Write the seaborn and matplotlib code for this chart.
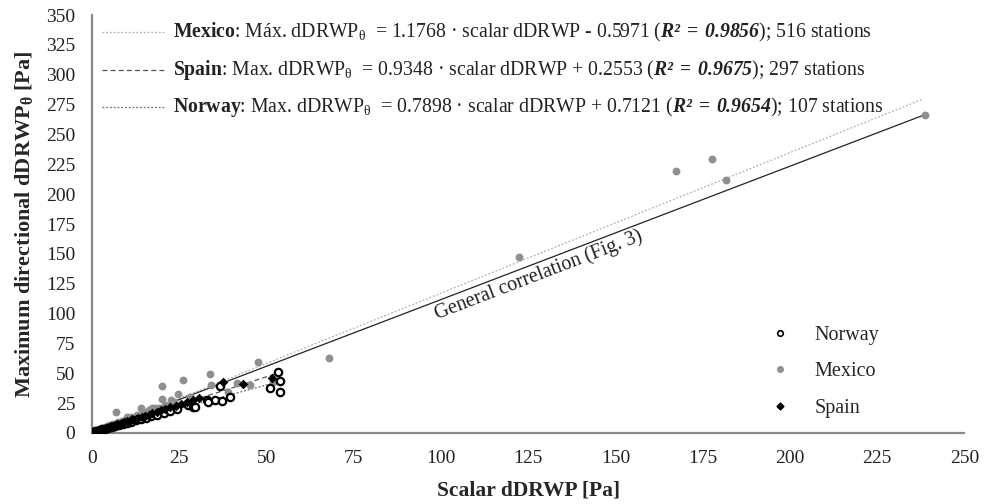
import numpy as np
import matplotlib
matplotlib.use("Agg")
import matplotlib.pyplot as plt
import seaborn as sns
from matplotlib.lines import Line2D

# data
mex_x = [0.2, 0.5, 0.8, 1.1, 1.4, 1.7, 2.0, 2.4, 2.8, 3.1, 3.5, 3.9, 4.3, 4.8, 5.2, 5.7, 6.1, 6.8, 7.4, 8.0,
         8.7, 9.3, 9.9, 10.6, 11.3, 12.0, 12.8, 13.6, 14.5, 15.3, 16.2, 17.1, 18.0, 19.2, 21.0, 23.5,
         6.8, 9.9, 14.0, 17.1, 20.1, 20.1, 22.5, 24.7, 26.2, 28.1, 33.8, 34.2, 39.1, 41.5,
         45.3, 47.7, 51.9, 67.8, 122.4, 167.3, 177.7, 181.7, 238.6]
mex_y = [0.6, 0.9, 1.5, 1.6, 2.3, 2.4, 3.1, 2.9, 3.8, 3.4, 4.5, 4.3, 5.4, 5.3, 6.6, 6.0, 7.5, 7.4, 9.1, 8.6,
         10.4, 10.0, 12.1, 11.3, 13.5, 12.8, 15.4, 14.6, 17.1, 16.8, 19.5, 18.2, 21.0, 20.6, 23.5, 26.0,
         17.8, 13.7, 20.7, 21.0, 39.4, 28.2, 27.6, 32.7, 44.4, 30.4, 49.4, 40.5, 34.6, 41.6,
         40.2, 59.2, 42.7, 62.8, 147.4, 219.4, 229.5, 211.9, 266.5]

spa_x = [0.3, 0.6, 1.0, 1.3, 1.7, 2.1, 2.5, 3.0, 3.4, 3.9, 4.4, 4.9, 5.5, 6.0, 6.6, 7.2, 7.9, 8.5, 9.2, 10.0,
         10.8, 11.6, 12.5, 13.3, 14.2, 15.1, 16.2, 17.3, 18.5, 19.8, 21.0, 22.4, 24.0, 25.5, 27.2, 29.0, 30.8,
         37.4, 43.4, 51.5]
spa_y = [0.7, 0.9, 1.3, 1.5, 1.9, 2.3, 2.6, 3.1, 3.5, 3.9, 4.5, 4.9, 5.4, 6.0, 6.4, 7.1, 7.6, 8.4, 8.8, 9.7,
         10.4, 11.3, 11.9, 12.8, 13.4, 14.6, 15.2, 16.5, 17.6, 18.9, 19.8, 21.5, 22.4, 24.6, 25.7, 27.4, 29.3,
         43.0, 41.0, 45.8]

nor_x = [0.4, 0.9, 1.5, 2.2, 3.0, 3.8, 4.7, 5.6, 6.6, 7.7, 8.8, 10.0, 11.3, 12.6, 14.0, 15.5, 17.0, 18.6,
         20.5, 22.4, 24.5, 27.6, 29.0, 29.5, 32.9, 33.3, 35.2, 36.7, 37.2, 39.5, 51.0, 53.4, 54.0, 54.0]
nor_y = [1.0, 1.4, 1.9, 2.4, 3.1, 3.6, 4.4, 5.0, 5.9, 6.6, 7.6, 8.5, 9.5, 10.6, 11.6, 12.9, 14.0, 15.2,
         16.8, 18.1, 20.0, 23.5, 22.0, 21.5, 27.6, 26.2, 27.6, 39.4, 27.0, 30.4, 37.4, 51.3, 43.3, 34.3]

# fitted lines: country, slope, intercept, end of line
fit_names = ["Mexico", "Spain", "Norway"]
fit_slope = [1.1768, 0.9348, 0.7898]
fit_icpt = [-0.5971, 0.2553, 0.7121]
fit_xmax = [238.0, 52.5, 54.0]
fit_r2 = ["0.9856", "0.9675", "0.9654"]
fit_n = [516, 297, 107]
fit_word = ["Máx.", "Max.", "Max."]
fit_style = [(0, (1.5, 1.5)), (0, (4, 2.5)), (0, (1.5, 1.5))]
fit_color = ["#b0b0b0", "#555555", "#707070"]

gen_slope = 1.117   # general correlation (Fig. 3), estimated
gen_xmax = 238.6

sns.set_style("white")
plt.rcParams["font.family"] = ["Liberation Serif", "DejaVu Serif"]
plt.rcParams["mathtext.fontset"] = "custom"
plt.rcParams["mathtext.rm"] = "Liberation Serif"
plt.rcParams["mathtext.it"] = "Liberation Serif:italic"
plt.rcParams["mathtext.bf"] = "Liberation Serif:bold"
plt.rcParams["mathtext.bfit"] = "Liberation Serif:italic:bold"

fig, ax = plt.subplots(figsize=(9.84, 5.04), dpi=100)
fig.subplots_adjust(left=0.0935, right=0.98, bottom=0.141, top=0.970)

# regression lines
for i in range(3):
    xs = np.array([0, fit_xmax[i]])
    ax.plot(xs, fit_slope[i] * xs + fit_icpt[i], color=fit_color[i], lw=0.9,
            linestyle=fit_style[i], zorder=1)
xs = np.array([0, gen_xmax])
ax.plot(xs, gen_slope * xs, color="#222222", lw=0.9, zorder=1)

# scatter
sns.scatterplot(x=mex_x, y=mex_y, ax=ax, marker="o", color="#8f8f8f", s=32,
                edgecolor="#8f8f8f", linewidth=0, zorder=2)
sns.scatterplot(x=nor_x, y=nor_y, ax=ax, marker="o", color="white", s=28,
                edgecolor="black", linewidth=1.6, zorder=3)
sns.scatterplot(x=spa_x, y=spa_y, ax=ax, marker="D", color="black", s=24,
                edgecolor="black", linewidth=0, zorder=4)

ax.set_xlim(0, 250)
ax.set_ylim(0, 350)
ax.set_xticks(np.arange(0, 251, 25))
ax.set_yticks(np.arange(0, 351, 25))
for s in ["top", "right"]:
    ax.spines[s].set_visible(False)
for s in ["left", "bottom"]:
    ax.spines[s].set_color("#8a8a8a")
    ax.spines[s].set_linewidth(1.6)
ax.tick_params(axis="both", direction="out", length=5, width=1.2, color="#8a8a8a",
               labelsize=14, labelcolor="#222222", pad=7)

ax.set_xlabel("Scalar dDRWP [Pa]", fontsize=15.5, fontweight="bold", labelpad=10)
ax.set_ylabel(r"Maximum directional dDRWP$_\mathbf{\theta}$ [Pa]", fontsize=16,
              fontweight="bold", labelpad=8)

# equation block
rows_y = [0.959, 0.868, 0.779]
for i in range(3):
    ax.add_line(Line2D([0.011, 0.084], [rows_y[i], rows_y[i]], transform=ax.transAxes,
                       color=fit_color[i], lw=0.9, linestyle=fit_style[i]))
    sign = "-" if fit_icpt[i] < 0 else "+"
    txt = (r"$\mathbf{" + fit_names[i] + r"}$: " + fit_word[i] + r" dDRWP$_\mathrm{\theta}$  = "
           + f"{fit_slope[i]:.4f} · scalar dDRWP {sign} {abs(fit_icpt[i]):.4f} ("
           + r"$\mathbfit{R²}\;\mathbf{=}\;\mathbfit{" + fit_r2[i] + r"}$"
           + f"); {fit_n[i]} stations")
    ax.text(0.093, rows_y[i], txt, transform=ax.transAxes, fontsize=14.2,
            va="center", ha="left", color="#222222")

ax.text(128, 132, "General correlation (Fig. 3)", fontsize=14.5, color="#222222",
        rotation=21, rotation_mode="anchor", ha="center", va="center")

handles = [
    Line2D([], [], marker="o", ls="", markerfacecolor="white", markeredgecolor="black",
           markeredgewidth=1.2, markersize=4),
    Line2D([], [], marker="o", ls="", markerfacecolor="#8f8f8f", markeredgecolor="#8f8f8f",
           markersize=4),
    Line2D([], [], marker="D", ls="", markerfacecolor="black", markeredgecolor="black",
           markersize=3.5),
]
ax.legend(handles, ["Norway", "Mexico", "Spain"], loc="upper left",
          bbox_to_anchor=(752 / 984, 1 - 308 / 504), bbox_transform=fig.transFigure,
          frameon=False, fontsize=14.5, handlelength=1, handletextpad=1.2, labelspacing=0.85)

fig.savefig("out.png", dpi=100)
